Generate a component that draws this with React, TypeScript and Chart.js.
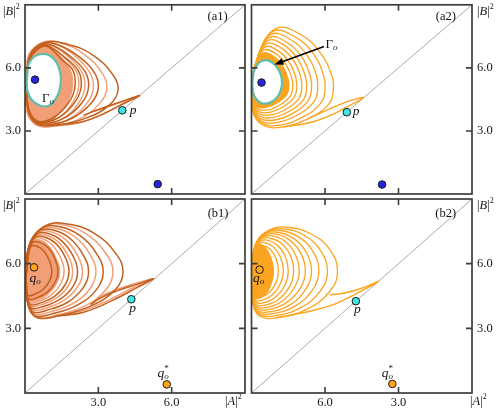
import React, { useEffect, useRef } from "react";
import { Chart, registerables } from "chart.js";

Chart.register(...registerables);

// ---------------- axes ----------------
const AXIS_MIN = 0;
const AXIS_MAX = 9;
const TICK_VALUES = [3, 6];
const TICK_LABELS = ["3.0", "6.0"];

const DIAG_UP = [0, 0, 9, 9];
const DIAG_DOWN = [9, 0, 0, 9];

// ---------------- (a1) ----------------
const A1_DARK_LOOPS = [
  [0.07, 5.2, 0.2, 6.6, 0.75, 7.19, 1.7, 7.14, 2.79, 6.6, 3.6, 5.66, 3.81, 4.96, 3.47, 4.25, 2.52, 3.62, 1.29, 3.28, 0.48, 3.34, 0.14, 3.94],
  [0.07, 5.2, 0.2, 6.55, 0.75, 7.15, 1.35, 7.1, 2.19, 6.55, 2.85, 5.75, 3.0, 5.05, 2.73, 4.35, 1.98, 3.64, 1.02, 3.3, 0.48, 3.36, 0.14, 3.96],
  [0.07, 5.2, 0.2, 6.5, 0.75, 7.1, 1.17, 7.05, 1.9, 6.5, 2.47, 5.8, 2.6, 5.1, 2.37, 4.4, 1.72, 3.69, 0.88, 3.35, 0.48, 3.41, 0.14, 4.01],
  [0.07, 5.2, 0.2, 6.45, 0.7, 7.05, 1.04, 7.0, 1.68, 6.45, 2.19, 5.85, 2.3, 5.15, 2.09, 4.45, 1.52, 3.74, 0.78, 3.4, 0.45, 3.46, 0.14, 4.06],
  [0.07, 5.2, 0.2, 6.4, 0.6, 6.95, 0.95, 7.0, 1.5, 6.4, 1.95, 5.9, 2.05, 5.2, 1.87, 4.5, 1.35, 3.79, 0.75, 3.45, 0.4, 3.55, 0.14, 4.1],
];
const A1_LIGHT_LOOPS = [
  [0.07, 5.2, 0.2, 6.62, 0.75, 7.22, 1.51, 7.17, 2.45, 6.62, 3.18, 5.7, 3.35, 5.0, 3.05, 4.3, 2.21, 3.56, 1.14, 3.22, 0.48, 3.28, 0.14, 3.88],
  [0.07, 5.2, 0.2, 6.58, 0.75, 7.18, 1.26, 7.13, 2.04, 6.58, 2.66, 5.75, 2.8, 5.05, 2.55, 4.35, 1.85, 3.6, 0.95, 3.26, 0.48, 3.32, 0.14, 3.92],
  [0.07, 5.2, 0.2, 6.52, 0.75, 7.12, 1.1, 7.07, 1.79, 6.52, 2.33, 5.8, 2.45, 5.1, 2.23, 4.4, 1.62, 3.64, 0.83, 3.3, 0.48, 3.36, 0.14, 3.96],
  [0.07, 5.2, 0.2, 6.48, 0.7, 7.08, 1.0, 7.03, 1.6, 6.48, 2.09, 5.85, 2.2, 5.15, 2.0, 4.45, 1.45, 3.7, 0.75, 3.36, 0.45, 3.42, 0.14, 4.02],
];
const A1_DENSE_CORE = [0.02, 5.2, 0.12, 6.55, 0.6, 7.15, 0.9, 7.12, 1.45, 6.55, 1.85, 5.9, 1.95, 5.2, 1.8, 4.5, 1.3, 3.7, 0.7, 3.3, 0.35, 3.35, 0.06, 3.95];
const A1_GAMMA_O = [0.07, 5.35, 0.2, 6.3, 0.7, 6.66, 1.2, 6.4, 1.45, 5.7, 1.4, 4.9, 1.1, 4.3, 0.75, 4.17, 0.3, 4.45, 0.1, 4.9];
const A1_TAIL_DARK = [1.29, 3.28, 2.3, 3.42, 3.1, 3.75, 3.8, 4.17, 4.35, 4.48, 4.69, 4.68, 4.2, 4.5, 3.5, 4.22, 2.9, 3.97, 2.4, 3.75];
const A1_TAIL_LIGHT = [1.14, 3.22, 2.2, 3.38, 3.0, 3.7, 3.7, 4.1, 4.3, 4.45, 4.62, 4.63, 4.1, 4.42, 3.4, 4.15, 2.8, 3.92];
const A1_FIXED = [0.41, 5.44, 5.43, 0.47];
const A1_P = [3.98, 3.98];

// ---------------- (a2) ----------------
const A2_LOOPS = [
  [8.97, 5.34, 8.67, 6.75, 7.99, 7.88, 7.03, 7.61, 6.21, 6.75, 5.73, 5.66, 5.66, 4.91, 5.86, 4.25, 6.62, 3.62, 7.71, 3.19, 8.54, 3.28, 8.95, 3.94],
  [8.97, 5.34, 8.7, 6.68, 8.1, 7.75, 7.23, 7.48, 6.48, 6.68, 6.06, 5.65, 6.0, 4.93, 6.18, 4.31, 6.87, 3.68, 7.83, 3.28, 8.58, 3.37, 8.95, 4.0],
  [8.97, 5.33, 8.73, 6.59, 8.19, 7.6, 7.41, 7.35, 6.73, 6.59, 6.35, 5.63, 6.3, 4.95, 6.46, 4.37, 7.08, 3.78, 7.95, 3.4, 8.62, 3.48, 8.95, 4.07],
  [8.97, 5.33, 8.75, 6.51, 8.26, 7.45, 7.55, 7.21, 6.94, 6.51, 6.6, 5.6, 6.55, 4.97, 6.7, 4.42, 7.26, 3.87, 8.05, 3.52, 8.66, 3.6, 8.95, 4.15],
  [8.97, 5.32, 8.77, 6.42, 8.32, 7.3, 7.67, 7.08, 7.11, 6.42, 6.8, 5.58, 6.75, 4.99, 6.88, 4.48, 7.4, 3.97, 8.13, 3.64, 8.68, 3.71, 8.95, 4.23],
  [8.97, 5.32, 8.79, 6.34, 8.38, 7.15, 7.79, 6.95, 7.28, 6.34, 6.99, 5.56, 6.95, 5.01, 7.07, 4.54, 7.54, 4.07, 8.2, 3.76, 8.71, 3.83, 8.95, 4.3],
  [8.97, 5.32, 8.81, 6.25, 8.44, 7.0, 7.91, 6.81, 7.45, 6.25, 7.19, 5.53, 7.15, 5.03, 7.26, 4.6, 7.69, 4.16, 8.28, 3.88, 8.74, 3.94, 8.96, 4.38],
  [8.97, 5.31, 8.83, 6.17, 8.5, 6.85, 8.01, 6.68, 7.6, 6.17, 7.35, 5.51, 7.32, 5.05, 7.42, 4.66, 7.81, 4.26, 8.34, 4.0, 8.76, 4.06, 8.96, 4.46],
  [8.97, 5.31, 8.85, 6.08, 8.54, 6.7, 8.1, 6.55, 7.73, 6.08, 7.51, 5.49, 7.48, 5.07, 7.57, 4.71, 7.92, 4.35, 8.41, 4.12, 8.79, 4.17, 8.96, 4.53],
];
const A2_DENSE_CORE = [9.0, 5.31, 8.88, 6.08, 8.54, 6.68, 8.1, 6.53, 7.75, 6.06, 7.53, 5.49, 7.5, 5.07, 7.59, 4.71, 7.94, 4.36, 8.41, 4.14, 8.8, 4.2, 8.98, 4.53];
const A2_GAMMA_O = [8.97, 5.3, 8.85, 6.0, 8.5, 6.36, 8.05, 6.15, 7.77, 5.5, 7.85, 4.8, 8.2, 4.38, 8.6, 4.33, 8.9, 4.7];
const A2_TAIL = [7.71, 3.19, 6.6, 3.4, 5.7, 3.78, 4.98, 4.22, 4.43, 4.58, 4.95, 4.45, 5.55, 4.18, 6.1, 3.9, 6.62, 3.62];
const A2_FIXED = [8.59, 5.3, 3.67, 0.45];
const A2_P = [5.11, 3.89];
const A2_ARROW = [6.04, 7.02, 8.06, 6.16];

// ---------------- (b1) ----------------
const B1_DARK_LOOPS = [
  [0.04, 5.41, 0.31, 7.11, 0.92, 7.8, 1.74, 7.84, 2.82, 7.42, 3.7, 6.49, 4.01, 5.64, 3.7, 4.8, 2.68, 4.03, 1.33, 3.57, 0.52, 3.49, 0.17, 4.03],
  [0.04, 5.4, 0.25, 7.02, 0.74, 7.68, 1.38, 7.72, 2.24, 7.31, 2.94, 6.44, 3.2, 5.61, 2.94, 4.82, 2.14, 4.08, 1.06, 3.66, 0.42, 3.58, 0.13, 4.08],
  [0.04, 5.43, 0.2, 6.92, 0.6, 7.53, 1.12, 7.57, 1.82, 7.19, 2.39, 6.39, 2.6, 5.62, 2.39, 4.9, 1.74, 4.21, 0.86, 3.83, 0.34, 3.75, 0.1, 4.21],
  [0.04, 5.46, 0.17, 6.82, 0.49, 7.38, 0.92, 7.41, 1.5, 7.06, 1.98, 6.33, 2.15, 5.64, 1.98, 4.97, 1.44, 4.35, 0.71, 4.0, 0.28, 3.93, 0.09, 4.35],
  [0.04, 5.49, 0.14, 6.71, 0.41, 7.22, 0.77, 7.25, 1.26, 6.94, 1.66, 6.27, 1.8, 5.64, 1.66, 5.05, 1.21, 4.48, 0.59, 4.16, 0.23, 4.1, 0.07, 4.48],
  [0.04, 5.52, 0.1, 6.55, 0.31, 6.97, 0.58, 7.0, 0.95, 6.74, 1.24, 6.18, 1.35, 5.65, 1.24, 5.15, 0.9, 4.67, 0.45, 4.4, 0.18, 4.35, 0.05, 4.67],
  [0.04, 5.53, 0.08, 6.43, 0.25, 6.8, 0.47, 6.82, 0.77, 6.59, 1.01, 6.11, 1.1, 5.65, 1.01, 5.21, 0.74, 4.8, 0.36, 4.57, 0.14, 4.52, 0.04, 4.8],
];
const B1_LIGHT_LOOPS = [
  [0.04, 5.39, 0.28, 7.07, 0.83, 7.76, 1.55, 7.8, 2.52, 7.37, 3.31, 6.47, 3.6, 5.61, 3.31, 4.79, 2.41, 4.02, 1.19, 3.59, 0.47, 3.5, 0.14, 4.02],
  [0.04, 5.42, 0.22, 6.97, 0.67, 7.61, 1.25, 7.65, 2.03, 7.25, 2.67, 6.41, 2.9, 5.62, 2.67, 4.86, 1.94, 4.14, 0.96, 3.74, 0.38, 3.66, 0.12, 4.14],
  [0.04, 5.45, 0.18, 6.87, 0.54, 7.45, 1.01, 7.49, 1.65, 7.13, 2.16, 6.36, 2.35, 5.63, 2.16, 4.94, 1.57, 4.28, 0.78, 3.91, 0.31, 3.84, 0.1, 4.28],
  [0.04, 5.48, 0.15, 6.77, 0.45, 7.3, 0.84, 7.33, 1.37, 7.0, 1.79, 6.3, 1.95, 5.64, 1.79, 5.01, 1.31, 4.42, 0.64, 4.09, 0.25, 4.02, 0.08, 4.42],
  [0.04, 5.5, 0.12, 6.66, 0.37, 7.14, 0.69, 7.17, 1.12, 6.87, 1.47, 6.24, 1.6, 5.65, 1.47, 5.08, 1.07, 4.54, 0.53, 4.24, 0.21, 4.18, 0.06, 4.54],
];
const B1_DENSE_CORE = [0.02, 5.5, 0.1, 6.62, 0.33, 7.08, 0.62, 7.1, 1.0, 6.8, 1.3, 6.2, 1.42, 5.65, 1.3, 5.1, 0.95, 4.58, 0.47, 4.28, 0.18, 4.24, 0.04, 4.6];
const B1_TAIL_DARK = [1.33, 3.57, 2.4, 3.75, 3.5, 4.25, 4.6, 4.9, 5.26, 5.3, 4.6, 5.05, 3.8, 4.75, 3.1, 4.42, 2.68, 4.1];
const B1_TAIL_LIGHT = [1.19, 3.59, 2.3, 3.8, 3.4, 4.3, 4.5, 4.93, 5.18, 5.27, 4.5, 5.08, 3.7, 4.78, 3.0, 4.45];
const B1_QO = [0.37, 5.83];
const B1_QO_STAR = [5.8, 0.4];
const B1_P = [4.35, 4.35];

// ---------------- (b2) ----------------
const B2_LOOPS = [
  [9.0, 5.41, 8.81, 6.95, 8.26, 7.57, 7.58, 7.69, 6.62, 7.41, 5.8, 6.65, 5.49, 5.64, 5.8, 4.72, 6.75, 3.88, 7.99, 3.49, 8.67, 3.57, 8.95, 4.19],
  [9.0, 5.44, 8.83, 6.89, 8.35, 7.5, 7.76, 7.62, 6.89, 7.34, 6.18, 6.61, 5.9, 5.64, 6.18, 4.75, 7.02, 3.94, 8.1, 3.58, 8.71, 3.66, 8.96, 4.27],
  [9.0, 5.45, 8.85, 6.85, 8.42, 7.43, 7.9, 7.55, 7.13, 7.28, 6.5, 6.58, 6.25, 5.65, 6.5, 4.8, 7.24, 4.02, 8.2, 3.67, 8.74, 3.75, 8.96, 4.33],
  [9.0, 5.47, 8.87, 6.8, 8.49, 7.36, 8.02, 7.47, 7.33, 7.21, 6.77, 6.54, 6.55, 5.65, 6.77, 4.84, 7.43, 4.09, 8.29, 3.76, 8.77, 3.83, 8.97, 4.39],
  [9.0, 5.48, 8.88, 6.75, 8.54, 7.28, 8.12, 7.39, 7.5, 7.14, 7.0, 6.51, 6.8, 5.66, 7.0, 4.88, 7.59, 4.18, 8.36, 3.86, 8.79, 3.93, 8.97, 4.46],
  [9.0, 5.5, 8.89, 6.7, 8.59, 7.2, 8.22, 7.3, 7.67, 7.07, 7.23, 6.46, 7.05, 5.66, 7.23, 4.93, 7.75, 4.26, 8.43, 3.96, 8.82, 4.03, 8.97, 4.53],
  [9.0, 5.5, 8.91, 6.63, 8.64, 7.11, 8.31, 7.2, 7.83, 6.98, 7.43, 6.42, 7.28, 5.66, 7.43, 4.97, 7.9, 4.34, 8.5, 4.06, 8.84, 4.12, 8.98, 4.59],
  [9.0, 5.52, 8.92, 6.57, 8.68, 7.01, 8.4, 7.1, 7.98, 6.89, 7.63, 6.37, 7.5, 5.66, 7.63, 5.02, 8.04, 4.43, 8.56, 4.17, 8.86, 4.23, 8.98, 4.67],
  [9.0, 5.53, 8.93, 6.5, 8.73, 6.9, 8.48, 6.98, 8.12, 6.79, 7.82, 6.31, 7.7, 5.66, 7.82, 5.07, 8.17, 4.53, 8.62, 4.29, 8.88, 4.34, 8.98, 4.75],
  [9.0, 5.54, 8.94, 6.41, 8.77, 6.78, 8.56, 6.85, 8.25, 6.68, 8.0, 6.24, 7.9, 5.66, 8.0, 5.12, 8.3, 4.64, 8.68, 4.42, 8.9, 4.47, 8.98, 4.83],
];
const B2_DENSE_CORE = [9.0, 5.5, 8.95, 6.45, 8.82, 6.85, 8.6, 6.88, 8.35, 6.62, 8.17, 6.15, 8.1, 5.66, 8.18, 5.12, 8.4, 4.62, 8.7, 4.38, 8.9, 4.42, 8.99, 4.85];
const B2_TAIL = [7.99, 3.49, 6.75, 3.76, 5.66, 4.1, 4.7, 4.62, 3.81, 5.18, 4.5, 4.86, 5.2, 4.64, 5.8, 4.55];
const B2_QO = [8.67, 5.72];
const B2_QO_STAR = [3.25, 0.42];
const B2_P = [4.74, 4.26];

// ---------------- styles ----------------
const SALMON = "#F29E76";
const SALMON_CORE = "#F29E76";
const BROWN = "#C3601D";
const ORANGE = "#FBA420";
const TEAL = "#5EBEAE";
const BLUE = "#2424E2";
const CYAN = "#42E4E4";
const QO_COLOR = "#FFA51C";
const DIAG = "#ababab";
const FRAME = "#3d3d3d";
const INK = "#151515";
const SERIF = '"Liberation Serif", "DejaVu Serif", serif';

const toPts = (flat: number[]) => {
  const r: { x: number; y: number }[] = [];
  for (let i = 0; i < flat.length; i += 2) r.push({ x: flat[i], y: flat[i + 1] });
  return r;
};
const closedPts = (flat: number[]) => {
  const r = toPts(flat);
  r.push({ ...r[0] });
  return r;
};

function lineDs(data: any[], color: string, width: number, extra: any = {}) {
  return {
    data,
    showLine: true,
    borderColor: color,
    borderWidth: width,
    pointRadius: 0,
    pointHoverRadius: 0,
    pointHitRadius: 0,
    tension: 0.42,
    fill: false,
    backgroundColor: "rgba(0,0,0,0)",
    ...extra,
  };
}
function fillDs(flat: number[], color: string) {
  return lineDs(closedPts(flat), color, 1, { fill: "shape", backgroundColor: color });
}
function dotDs(flat: number[], color: string, r = 3.8) {
  return {
    data: toPts(flat),
    showLine: false,
    fill: false,
    pointRadius: r,
    pointHoverRadius: r,
    pointBackgroundColor: color,
    pointBorderColor: "#1b1b1b",
    pointBorderWidth: 1,
    backgroundColor: color,
    borderColor: "#1b1b1b",
  };
}

function buildA1() {
  return [
    lineDs(toPts(DIAG_UP), DIAG, 1, { tension: 0 }),
    fillDs(A1_DENSE_CORE, SALMON_CORE),
    ...A1_LIGHT_LOOPS.map((l) => lineDs(closedPts(l), SALMON, 1.4)),
    lineDs(toPts(A1_TAIL_LIGHT), SALMON, 1.4),
    ...A1_DARK_LOOPS.map((l) => lineDs(closedPts(l), BROWN, 1.5)),
    lineDs(toPts(A1_TAIL_DARK), BROWN, 1.5),
    lineDs(closedPts(A1_GAMMA_O), TEAL, 2.2, { fill: "shape", backgroundColor: "#ffffff" }),
    dotDs(A1_FIXED, BLUE),
    dotDs(A1_P, CYAN),
  ];
}
function buildA2() {
  return [
    lineDs(toPts(DIAG_DOWN), DIAG, 1, { tension: 0 }),
    fillDs(A2_DENSE_CORE, ORANGE),
    ...A2_LOOPS.map((l) => lineDs(closedPts(l), ORANGE, 1.3)),
    lineDs(toPts(A2_TAIL), ORANGE, 1.4),
    lineDs(closedPts(A2_GAMMA_O), TEAL, 2.2, { fill: "shape", backgroundColor: "#ffffff" }),
    dotDs(A2_FIXED, BLUE),
    dotDs(A2_P, CYAN),
  ];
}
function buildB1() {
  return [
    lineDs(toPts(DIAG_UP), DIAG, 1, { tension: 0 }),
    fillDs(B1_DENSE_CORE, SALMON_CORE),
    ...B1_LIGHT_LOOPS.map((l) => lineDs(closedPts(l), SALMON, 1.5)),
    lineDs(toPts(B1_TAIL_LIGHT), SALMON, 1.5),
    ...B1_DARK_LOOPS.map((l) => lineDs(closedPts(l), BROWN, 1.5)),
    lineDs(toPts(B1_TAIL_DARK), BROWN, 1.5),
    dotDs(B1_QO, QO_COLOR),
    dotDs(B1_P, CYAN),
    dotDs(B1_QO_STAR, QO_COLOR),
  ];
}
function buildB2() {
  return [
    lineDs(toPts(DIAG_DOWN), DIAG, 1, { tension: 0 }),
    fillDs(B2_DENSE_CORE, ORANGE),
    ...B2_LOOPS.map((l) => lineDs(closedPts(l), ORANGE, 1.3)),
    lineDs(toPts(B2_TAIL), ORANGE, 1.4),
    dotDs(B2_QO, QO_COLOR),
    dotDs(B2_P, CYAN),
    dotDs(B2_QO_STAR, QO_COLOR),
  ];
}

type Part = { t: string; it?: boolean; sz?: number; dy?: number; overlay?: boolean };
const BASE = 12.5;
const fontOf = (sz: number, it?: boolean) => `${it ? "italic " : ""}${sz}px ${SERIF}`;

function drawRich(ctx: CanvasRenderingContext2D, parts: Part[], x: number, y: number, align: "left" | "center" | "right") {
  const widths = parts.map((p) => {
    ctx.font = fontOf(p.sz ?? BASE, p.it);
    return ctx.measureText(p.t).width;
  });
  const total = parts.reduce((s, p, i) => s + (p.overlay ? 0 : widths[i]), 0);
  let cx = align === "left" ? x : align === "center" ? x - total / 2 : x - total;
  ctx.textAlign = "left";
  ctx.textBaseline = "middle";
  parts.forEach((p, i) => {
    ctx.font = fontOf(p.sz ?? BASE, p.it);
    ctx.fillText(p.t, cx, y + (p.dy ?? 0));
    if (!p.overlay) cx += widths[i];
  });
}

const LABEL_B: Part[] = [{ t: "|" }, { t: "B", it: true }, { t: "|" }, { t: "2", sz: 8, dy: -5 }];
const LABEL_A: Part[] = [{ t: "|" }, { t: "A", it: true }, { t: "|" }, { t: "2", sz: 8, dy: -5 }];
const LABEL_GAMMA: Part[] = [{ t: "Γ", sz: 13 }, { t: "o", it: true, sz: 9, dy: 3 }];
const LABEL_P: Part[] = [{ t: "p", it: true, sz: 13.5 }];
const LABEL_Q: Part[] = [{ t: "q", it: true, sz: 13.5 }, { t: "o", it: true, sz: 9, dy: 3 }];
const LABEL_QSTAR: Part[] = [
  { t: "q", it: true, sz: 13.5 },
  { t: "*", sz: 9, dy: -5, overlay: true },
  { t: "o", it: true, sz: 9, dy: 3 },
];

type Note = { parts: Part[]; x: number; y: number };
type PanelDef = {
  key: string;
  padding: { left: number; top: number; right: number; bottom: number };
  reverse: boolean;
  ySide: "left" | "right";
  xLabels: boolean;
  aLabelOffset: number;
  tag: string;
  tagPos: [number, number];
  notes: Note[];
  arrow?: number[];
  build: () => any[];
};

const PANELS: PanelDef[] = [
  {
    key: "a1",
    padding: { left: 25, top: 2, right: 254, bottom: 214 },
    reverse: false,
    ySide: "left",
    xLabels: false,
    aLabelOffset: 0,
    tag: "(a1)",
    tagPos: [7.88, 8.44],
    notes: [
      { parts: LABEL_GAMMA, x: 0.94, y: 4.55 },
      { parts: LABEL_P, x: 4.42, y: 3.98 },
    ],
    build: buildA1,
  },
  {
    key: "a2",
    padding: { left: 251.5, top: 2, right: 27, bottom: 214 },
    reverse: true,
    ySide: "right",
    xLabels: false,
    aLabelOffset: 0,
    tag: "(a2)",
    tagPos: [1.07, 8.44],
    notes: [
      { parts: LABEL_GAMMA, x: 5.73, y: 7.09 },
      { parts: LABEL_P, x: 4.73, y: 3.94 },
    ],
    arrow: A2_ARROW,
    build: buildA2,
  },
  {
    key: "b1",
    padding: { left: 25, top: 199, right: 254, bottom: 15 },
    reverse: false,
    ySide: "left",
    xLabels: true,
    aLabelOffset: -20,
    tag: "(b1)",
    tagPos: [7.9, 8.31],
    notes: [
      { parts: LABEL_Q, x: 0.41, y: 5.3 },
      { parts: LABEL_P, x: 4.4, y: 3.92 },
      { parts: LABEL_QSTAR, x: 5.65, y: 0.92 },
    ],
    build: buildB1,
  },
  {
    key: "b2",
    padding: { left: 251.5, top: 199, right: 27, bottom: 15 },
    reverse: true,
    ySide: "right",
    xLabels: true,
    aLabelOffset: -2,
    tag: "(b2)",
    tagPos: [1.07, 8.31],
    notes: [
      { parts: LABEL_Q, x: 8.71, y: 5.3 },
      { parts: LABEL_P, x: 4.68, y: 3.86 },
      { parts: LABEL_QSTAR, x: 3.45, y: 0.92 },
    ],
    build: buildB2,
  },
];

function panelPlugin(def: PanelDef) {
  return {
    id: "panelDecor_" + def.key,
    afterDraw(chart: any) {
      const ctx: CanvasRenderingContext2D = chart.ctx;
      const a = chart.chartArea;
      const xs = chart.scales.x;
      const ys = chart.scales.y;
      ctx.save();
      ctx.strokeStyle = FRAME;
      ctx.lineWidth = 1.7;
      ctx.strokeRect(a.left, a.top, a.right - a.left, a.bottom - a.top);
      ctx.lineWidth = 1.6;
      ctx.beginPath();
      TICK_VALUES.forEach((v) => {
        const px = xs.getPixelForValue(v);
        const py = ys.getPixelForValue(v);
        ctx.moveTo(px, a.top);
        ctx.lineTo(px, a.top + 6);
        ctx.moveTo(px, a.bottom);
        ctx.lineTo(px, a.bottom - 6);
        ctx.moveTo(a.left, py);
        ctx.lineTo(a.left + 6, py);
        ctx.moveTo(a.right, py);
        ctx.lineTo(a.right - 6, py);
      });
      ctx.stroke();

      ctx.fillStyle = INK;
      TICK_VALUES.forEach((v, i) => {
        const py = ys.getPixelForValue(v);
        if (def.ySide === "left") drawRich(ctx, [{ t: TICK_LABELS[i] }], a.left - 4, py, "right");
        else drawRich(ctx, [{ t: TICK_LABELS[i] }], a.right + 5, py, "left");
      });
      if (def.ySide === "left") drawRich(ctx, LABEL_B, a.left - 22, a.top + 7, "left");
      else drawRich(ctx, LABEL_B, a.right + 5, a.top + 7, "left");
      if (def.xLabels) {
        TICK_VALUES.forEach((v, i) => {
          const px = xs.getPixelForValue(v);
          drawRich(ctx, [{ t: TICK_LABELS[i] }], px, a.bottom + 10, "center");
        });
        drawRich(ctx, LABEL_A, a.right + def.aLabelOffset, a.bottom + 9, "left");
      }
      drawRich(ctx, [{ t: def.tag }], xs.getPixelForValue(def.tagPos[0]), ys.getPixelForValue(def.tagPos[1]), "center");
      def.notes.forEach((n) => {
        drawRich(ctx, n.parts, xs.getPixelForValue(n.x), ys.getPixelForValue(n.y), "center");
      });
      if (def.arrow) {
        const x0 = xs.getPixelForValue(def.arrow[0]);
        const y0 = ys.getPixelForValue(def.arrow[1]);
        const x1 = xs.getPixelForValue(def.arrow[2]);
        const y1 = ys.getPixelForValue(def.arrow[3]);
        const ang = Math.atan2(y1 - y0, x1 - x0);
        const hl = 9;
        const hw = 3.5;
        const bx = x1 - hl * Math.cos(ang);
        const by = y1 - hl * Math.sin(ang);
        ctx.strokeStyle = "#000";
        ctx.lineWidth = 1.6;
        ctx.beginPath();
        ctx.moveTo(x0, y0);
        ctx.lineTo(bx, by);
        ctx.stroke();
        ctx.fillStyle = "#000";
        ctx.beginPath();
        ctx.moveTo(x1, y1);
        ctx.lineTo(bx + hw * Math.sin(ang), by - hw * Math.cos(ang));
        ctx.lineTo(bx - hw * Math.sin(ang), by + hw * Math.cos(ang));
        ctx.closePath();
        ctx.fill();
      }
      ctx.restore();
    },
  };
}

function makeChart(canvas: HTMLCanvasElement, def: PanelDef) {
  const ds = def.build();
  const n = ds.length;
  const datasets = ds.map((d, i) => ({ ...d, order: n - i }));
  return new Chart(canvas, {
    type: "scatter",
    data: { datasets },
    options: {
      responsive: false,
      maintainAspectRatio: false,
      animation: false,
      devicePixelRatio: 1,
      events: [],
      layout: { padding: def.padding },
      plugins: { legend: { display: false }, tooltip: { enabled: false } },
      scales: {
        x: { type: "linear", min: AXIS_MIN, max: AXIS_MAX, reverse: def.reverse, display: false },
        y: { type: "linear", min: AXIS_MIN, max: AXIS_MAX, display: false },
      },
    } as any,
    plugins: [panelPlugin(def)],
  } as any);
}

export default function App() {
  const refs = useRef<(HTMLCanvasElement | null)[]>([]);
  useEffect(() => {
    const charts = PANELS.map((def, i) => makeChart(refs.current[i] as HTMLCanvasElement, def));
    return () => charts.forEach((c) => c.destroy());
  }, []);
  return (
    <div style={{ position: "absolute", left: 0, top: 0, width: 499, height: 408, background: "#fff" }}>
      {PANELS.map((p, i) => (
        <canvas
          key={p.key}
          ref={(el) => {
            refs.current[i] = el;
          }}
          width={499}
          height={408}
          style={{ position: "absolute", left: 0, top: 0, width: 499, height: 408, pointerEvents: "none" }}
        />
      ))}
    </div>
  );
}
